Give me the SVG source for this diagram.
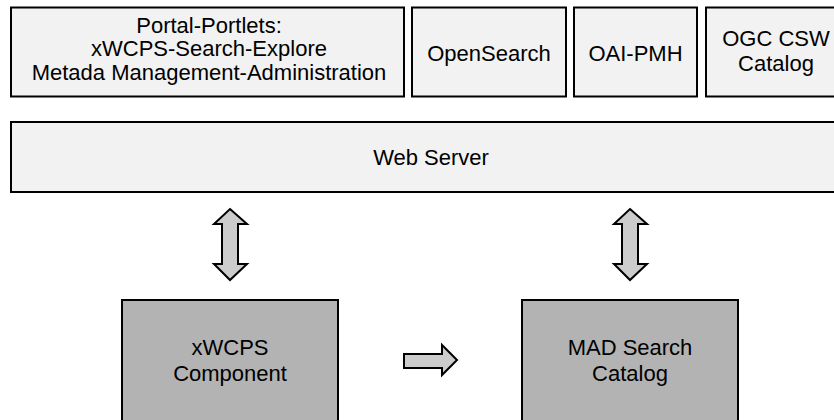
<svg xmlns="http://www.w3.org/2000/svg" width="834" height="420" viewBox="0 0 834 420">
<style>
.top{fill:#f2f2f2;stroke:#000;stroke-width:2}
.comp{fill:#b3b3b3;stroke:#000;stroke-width:2}
.arr{fill:#cccccc;stroke:#000;stroke-width:2;stroke-linejoin:miter}
text{font-family:"Liberation Sans",Arial,sans-serif;font-size:22px;fill:#000;text-anchor:middle}
</style>
<rect width="834" height="420" fill="#fff"/>
<g id="portal">
<rect class="top" x="11" y="7.5" width="393" height="89"/>
<text x="209" y="32.5">Portal-Portlets:</text>
<text x="209" y="56">xWCPS-Search-Explore</text>
<text x="209" y="79.5">Metada Management-Administration</text>
</g>
<g id="opensearch">
<rect class="top" x="412" y="7.5" width="154" height="89"/>
<text x="489" y="61">OpenSearch</text>
</g>
<g id="oaipmh">
<rect class="top" x="574" y="7.5" width="123" height="89"/>
<text x="635.5" y="61">OAI-PMH</text>
</g>
<g id="ogccsw">
<rect class="top" x="706" y="7.5" width="140" height="89"/>
<text x="776" y="46">OGC CSW</text>
<text x="776" y="71">Catalog</text>
</g>
<g id="webserver">
<rect class="top" x="11" y="122" width="840" height="70"/>
<text x="431" y="165">Web Server</text>
</g>
<g id="xwcps">
<rect class="comp" x="122" y="300" width="216" height="140"/>
<text x="230" y="355">xWCPS</text>
<text x="230" y="381">Component</text>
</g>
<g id="mad">
<rect class="comp" x="522" y="300" width="216" height="140"/>
<text x="630" y="355">MAD Search</text>
<text x="630" y="381">Catalog</text>
</g>
<g id="connectors">
<polygon class="arr" points="230,209 247,224 238,224 238,264 247,264 230,280 214,264 222,264 222,224 214,224"/>
<polygon class="arr" points="630,209 647,224 638,224 638,264 647,264 630,280 614,264 622,264 622,224 614,224"/>
<polygon class="arr" points="404,354 442,354 442,345 457,360 442,375 442,368 404,368"/>
</g>
</svg>
